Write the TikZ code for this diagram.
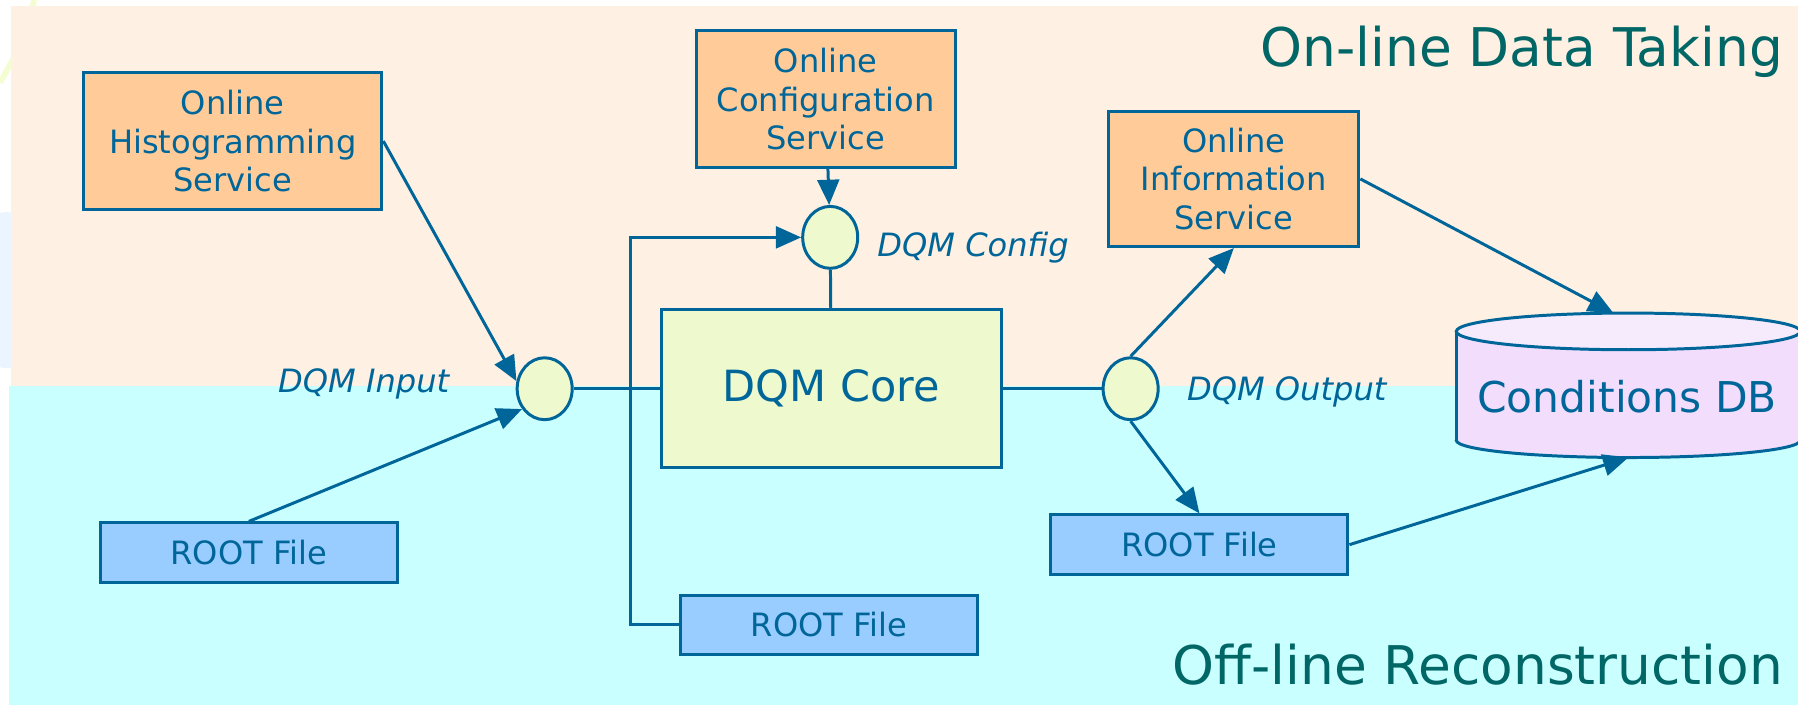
\documentclass[tikz,border=0pt]{standalone}
\usepackage{fontspec}
\setmainfont{DejaVu Sans}
\usetikzlibrary{arrows.meta,shapes.geometric}
\definecolor{linkblue}{HTML}{006699}
\definecolor{titleteal}{HTML}{006666}
\definecolor{peachbg}{HTML}{FEF0E3}
\definecolor{cyanbg}{HTML}{CAFFFF}
\definecolor{svcorange}{HTML}{FFCC99}
\definecolor{coregreen}{HTML}{EEF9CE}
\definecolor{fileblue}{HTML}{99CCFF}
\definecolor{dbpurple}{HTML}{F2DDFC}
\definecolor{dbtoplid}{HTML}{F6EBFC}
\definecolor{faintyellow}{HTML}{F4FCD2}
\definecolor{faintsky}{HTML}{EAF5FF}

\begin{document}
\begin{tikzpicture}[x=1pt,y=-1pt,
  >={Triangle[length=22pt,width=19pt]},
  link/.style={draw=linkblue,line width=2.6pt},
  svc/.style={link,fill=svcorange,text=linkblue,align=center,inner sep=0pt,font=\fontsize{28pt}{33.5pt}\selectfont},
  rootfile/.style={link,fill=fileblue,text=linkblue,minimum width=259pt,minimum height=52pt,inner sep=0pt,font=\fontsize{28pt}{33pt}\selectfont},
  junction/.style={ellipse,link,fill=coregreen,minimum width=48pt,minimum height=54pt,inner sep=0pt},
  tag/.style={text=linkblue,inner sep=0pt,font=\fontsize{28pt}{33pt}\selectfont\itshape},
  region/.style={text=titleteal,anchor=east,inner sep=0pt,font=\fontsize{46.5pt}{55pt}\selectfont}]
\useasboundingbox (0,0) rectangle (1568,615);
\fill[white] (0,0) rectangle (1568,615);
\fill[faintsky] (6,253) ellipse [x radius=40,y radius=68];
\draw[faintyellow,line width=5pt] (30,0) .. controls (18,40) .. (0,72);
\fill[peachbg] (10,5) rectangle (1568,337);
\fill[cyanbg] (8,337) rectangle (1568,615);

\node[region] (online) at (1555,45) {On-line Data Taking};
\node[region] (offline) at (1555,580) {Off-line Reconstruction};

\node[svc,minimum width=260pt,minimum height=120pt] (ohs) at (203,123) {Online\\Histogramming\\Service};
\node[svc,minimum width=226pt,minimum height=119pt] (ocs) at (720,86.5) {Online\\Configuration\\Service};
\node[svc,minimum width=218pt,minimum height=118pt] (ois) at (1076,156) {Online\\Information\\Service};
\node[link,fill=coregreen,text=linkblue,minimum width=296pt,minimum height=138pt,inner sep=0pt,font=\fontsize{37.5pt}{44pt}\selectfont] (core) at (725,339) {DQM Core};

\node[junction] (in) at (475,339) {};
\node[junction] (cfg) at (724,207) {};
\node[junction] (out) at (986,339) {};
\node[tag,anchor=east] (inlbl) at (392,335) {DQM Input};
\node[tag,anchor=west] (cfglbl) at (765,216) {DQM Config};
\node[tag,anchor=west] (outlbl) at (1035,342) {DQM Output};

\node[rootfile] (rf1) at (217,482) {ROOT File};
\node[rootfile] (rf2) at (723,545) {ROOT File};
\node[rootfile] (rf3) at (1046,475) {ROOT File};

\filldraw[link,fill=dbpurple] (1420,384) ellipse [x radius=150,y radius=15];
\fill[dbpurple] (1270,289) rectangle (1570,384);
\draw[link] (1270,289) -- (1270,384);
\draw[link,fill=dbtoplid] (1420,289) ellipse [x radius=150,y radius=16];
\node[text=linkblue,font=\fontsize{37pt}{44pt}\selectfont] (cdb) at (1419,346) {Conditions DB};
\coordinate (dbtop) at (1407,273);
\coordinate (dbbot) at (1420,399);

\draw[link,->] (ohs.east) -- (in.165);
\draw[link,->] (rf1.north) -- (in.222);
\draw[link] (in) -- (core);
\draw[link,->] (rf2.west) -- ++(-42,0) |- (cfg);
\draw[link,->] (ocs) -- (cfg);
\draw[link] (cfg) -- (core);
\draw[link] (core) -- (out);
\draw[link,->] (out.north) -- (ois.south);
\draw[link,->] (out.south) -- (rf3.north);
\draw[link,->] (ois.east) -- (dbtop);
\draw[link,->] (rf3.east) -- (dbbot);
\end{tikzpicture}
\end{document}
